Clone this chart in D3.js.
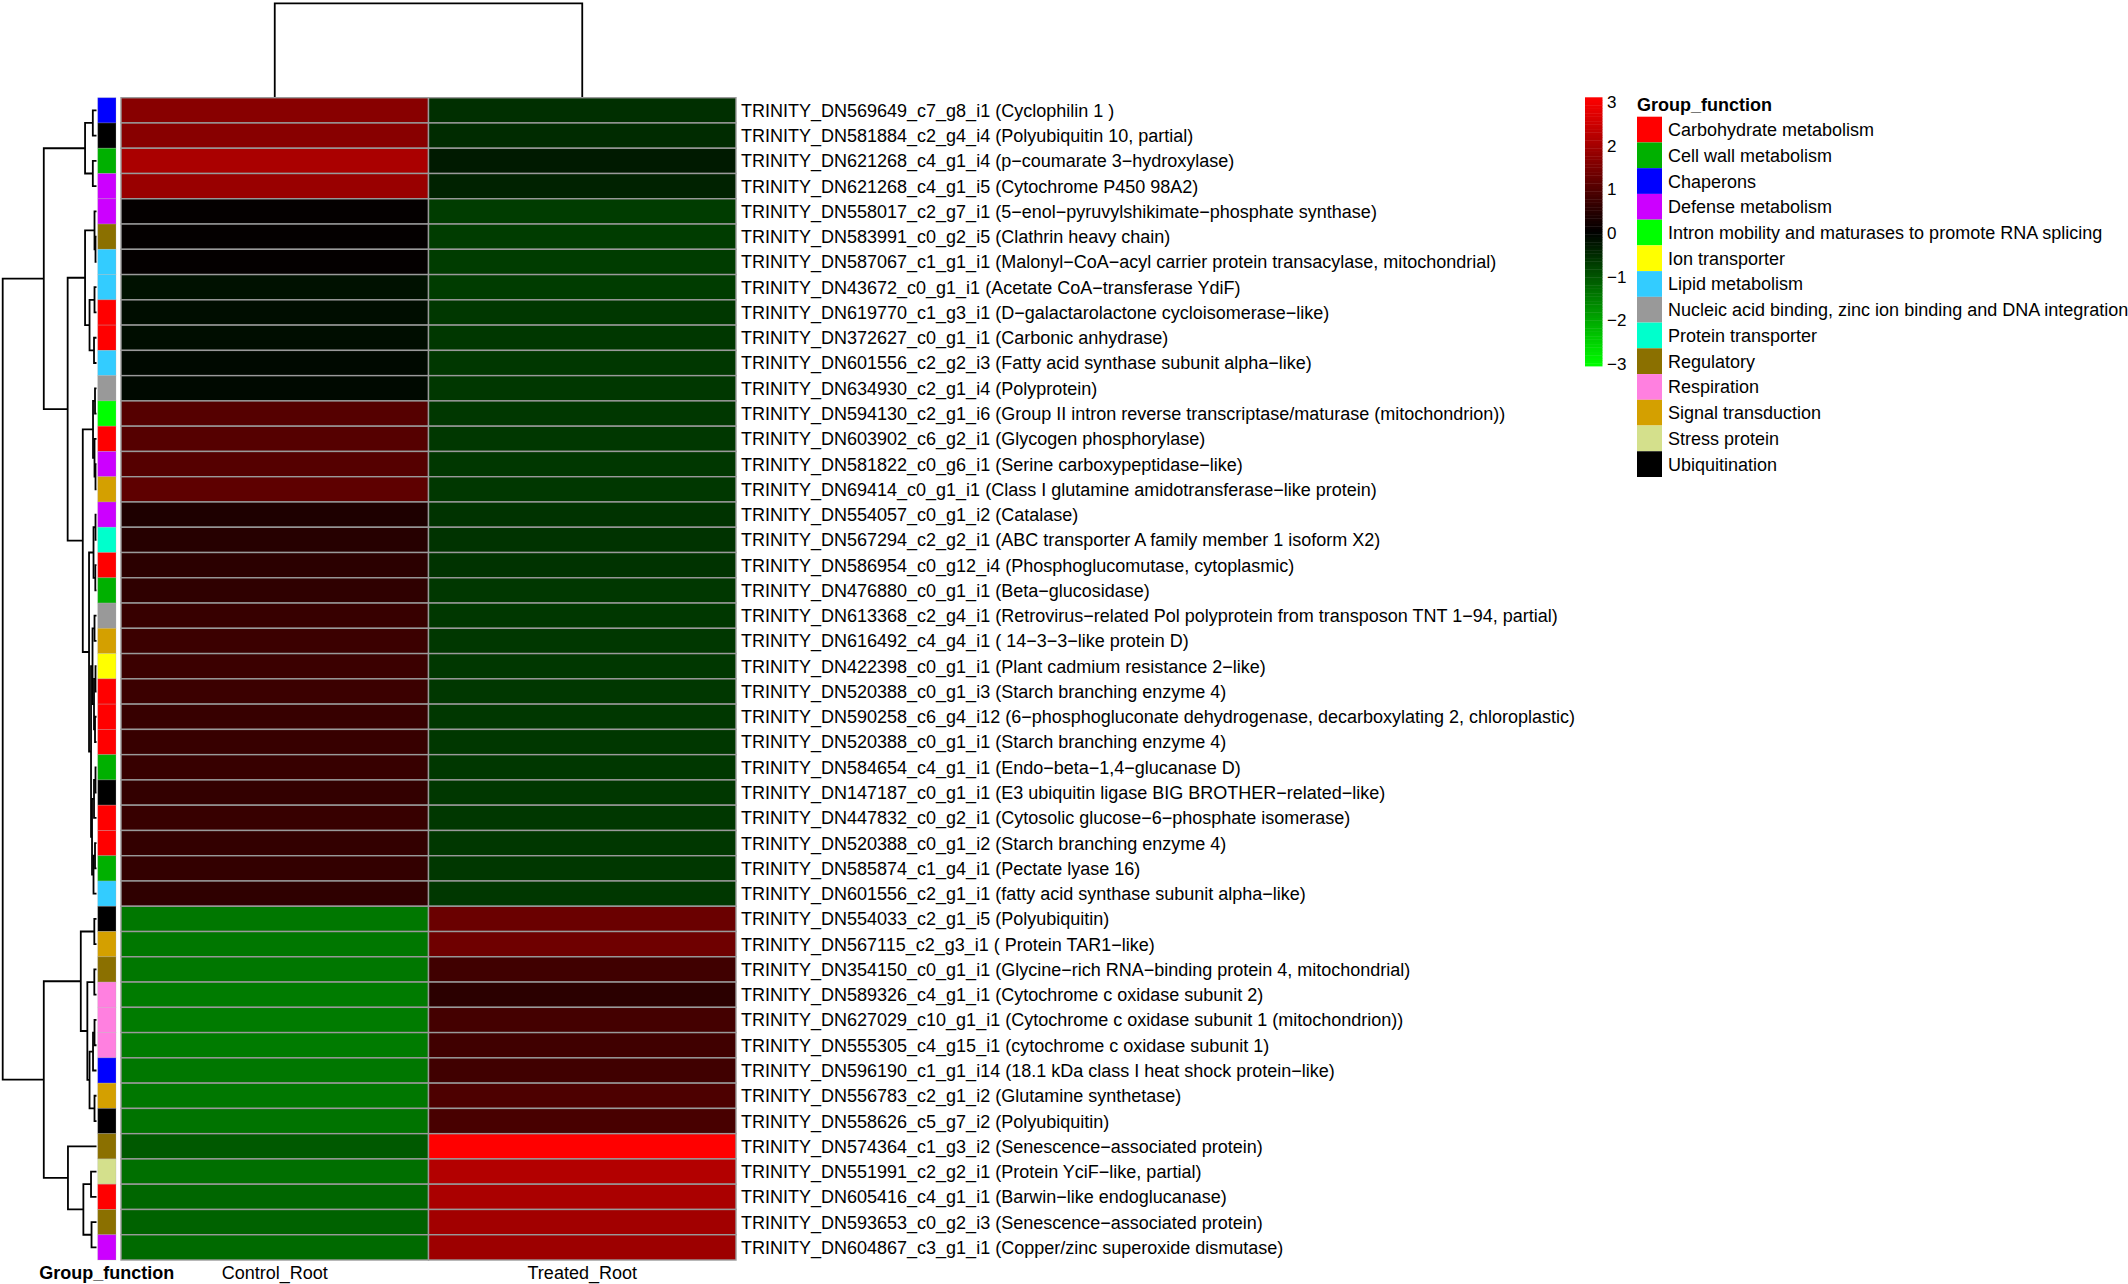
<!DOCTYPE html>
<html>
<head>
<meta charset="utf-8">
<script src="https://cdn.jsdelivr.net/npm/d3@7"></script>
<style>
  html, body { margin: 0; padding: 0; background: #ffffff; }
  svg { display: block; font-family: "Liberation Sans", Arial, sans-serif; }
</style>
</head>
<body>
<svg id="chart" width="2128" height="1284"></svg>
<script>
// ---------------- DATA ----------------
const samples = ["Control_Root", "Treated_Root"];

const genes = [
  "TRINITY_DN569649_c7_g8_i1 (Cyclophilin 1 )",
  "TRINITY_DN581884_c2_g4_i4 (Polyubiquitin 10, partial)",
  "TRINITY_DN621268_c4_g1_i4 (p\u2212coumarate 3\u2212hydroxylase)",
  "TRINITY_DN621268_c4_g1_i5 (Cytochrome P450 98A2)",
  "TRINITY_DN558017_c2_g7_i1 (5\u2212enol\u2212pyruvylshikimate\u2212phosphate synthase)",
  "TRINITY_DN583991_c0_g2_i5 (Clathrin heavy chain)",
  "TRINITY_DN587067_c1_g1_i1 (Malonyl\u2212CoA\u2212acyl carrier protein transacylase, mitochondrial)",
  "TRINITY_DN43672_c0_g1_i1 (Acetate CoA\u2212transferase YdiF)",
  "TRINITY_DN619770_c1_g3_i1 (D\u2212galactarolactone cycloisomerase\u2212like)",
  "TRINITY_DN372627_c0_g1_i1 (Carbonic anhydrase)",
  "TRINITY_DN601556_c2_g2_i3 (Fatty acid synthase subunit alpha\u2212like)",
  "TRINITY_DN634930_c2_g1_i4 (Polyprotein)",
  "TRINITY_DN594130_c2_g1_i6 (Group II intron reverse transcriptase/maturase (mitochondrion))",
  "TRINITY_DN603902_c6_g2_i1 (Glycogen phosphorylase)",
  "TRINITY_DN581822_c0_g6_i1 (Serine carboxypeptidase\u2212like)",
  "TRINITY_DN69414_c0_g1_i1 (Class I glutamine amidotransferase\u2212like protein)",
  "TRINITY_DN554057_c0_g1_i2 (Catalase)",
  "TRINITY_DN567294_c2_g2_i1 (ABC transporter A family member 1 isoform X2)",
  "TRINITY_DN586954_c0_g12_i4 (Phosphoglucomutase, cytoplasmic)",
  "TRINITY_DN476880_c0_g1_i1 (Beta\u2212glucosidase)",
  "TRINITY_DN613368_c2_g4_i1 (Retrovirus\u2212related Pol polyprotein from transposon TNT 1\u221294, partial)",
  "TRINITY_DN616492_c4_g4_i1 ( 14\u22123\u22123\u2212like protein D)",
  "TRINITY_DN422398_c0_g1_i1 (Plant cadmium resistance 2\u2212like)",
  "TRINITY_DN520388_c0_g1_i3 (Starch branching enzyme 4)",
  "TRINITY_DN590258_c6_g4_i12 (6\u2212phosphogluconate dehydrogenase, decarboxylating 2, chloroplastic)",
  "TRINITY_DN520388_c0_g1_i1 (Starch branching enzyme 4)",
  "TRINITY_DN584654_c4_g1_i1 (Endo\u2212beta\u22121,4\u2212glucanase D)",
  "TRINITY_DN147187_c0_g1_i1 (E3 ubiquitin ligase BIG BROTHER\u2212related\u2212like)",
  "TRINITY_DN447832_c0_g2_i1 (Cytosolic glucose\u22126\u2212phosphate isomerase)",
  "TRINITY_DN520388_c0_g1_i2 (Starch branching enzyme 4)",
  "TRINITY_DN585874_c1_g4_i1 (Pectate lyase 16)",
  "TRINITY_DN601556_c2_g1_i1 (fatty acid synthase subunit alpha\u2212like)",
  "TRINITY_DN554033_c2_g1_i5 (Polyubiquitin)",
  "TRINITY_DN567115_c2_g3_i1 ( Protein TAR1\u2212like)",
  "TRINITY_DN354150_c0_g1_i1 (Glycine\u2212rich RNA\u2212binding protein 4, mitochondrial)",
  "TRINITY_DN589326_c4_g1_i1 (Cytochrome c oxidase subunit 2)",
  "TRINITY_DN627029_c10_g1_i1 (Cytochrome c oxidase subunit 1 (mitochondrion))",
  "TRINITY_DN555305_c4_g15_i1 (cytochrome c oxidase subunit 1)",
  "TRINITY_DN596190_c1_g1_i14 (18.1 kDa class I heat shock protein\u2212like)",
  "TRINITY_DN556783_c2_g1_i2 (Glutamine synthetase)",
  "TRINITY_DN558626_c5_g7_i2 (Polyubiquitin)",
  "TRINITY_DN574364_c1_g3_i2 (Senescence\u2212associated protein)",
  "TRINITY_DN551991_c2_g2_i1 (Protein YciF\u2212like, partial)",
  "TRINITY_DN605416_c4_g1_i1 (Barwin\u2212like endoglucanase)",
  "TRINITY_DN593653_c0_g2_i3 (Senescence\u2212associated protein)",
  "TRINITY_DN604867_c3_g1_i1 (Copper/zinc superoxide dismutase)"
];

const groupNames = [
  "Carbohydrate metabolism", "Cell wall metabolism", "Chaperons", "Defense metabolism",
  "Intron mobility and maturases to promote RNA splicing", "Ion transporter", "Lipid metabolism",
  "Nucleic acid binding, zinc ion binding and DNA integration", "Protein transporter", "Regulatory",
  "Respiration", "Signal transduction", "Stress protein", "Ubiquitination"
];
const groupColors = [
  "#ff0000", "#00b000", "#0000ff", "#cc00ff",
  "#00ff00", "#ffff00", "#33ccff",
  "#999999", "#00ffcc", "#8b7000",
  "#ff80e0", "#d4a000", "#d4e08c", "#000000"
];

// group index per gene (row order as shown)
const geneGroup = [
  2, 13, 1, 3, 3, 9, 6, 6, 0, 0, 6, 7,
  4, 0, 3, 11, 3, 8, 0, 1, 7, 11, 5, 0,
  0, 0, 1, 13, 0, 0, 1, 6,
  13, 11, 9, 10, 10, 10, 2, 11, 13, 9, 12, 0, 9, 3
];

const controlValues = [
  1.6, 1.6, 2.0, 1.8, 0.05, 0.05, 0.05, -0.2, -0.15, -0.15, -0.1, -0.1,
  1.0, 1.0, 1.0, 1.1, 0.35, 0.45, 0.5, 0.55, 0.65, 0.7, 0.7, 0.7,
  0.65, 0.65, 0.65, 0.6, 0.65, 0.6, 0.6, 0.55,
  -1.4, -1.4, -1.4, -1.45, -1.45, -1.45, -1.4, -1.4, -1.35,
  -1.05, -1.3, -1.2, -1.15, -1.25
];
const treatedValues = [
  -0.55, -0.5, -0.3, -0.4, -0.7, -0.7, -0.7, -0.7, -0.65, -0.65, -0.65, -0.65,
  -0.65, -0.65, -0.65, -0.65, -0.6, -0.6, -0.6, -0.65, -0.65, -0.65, -0.65, -0.65,
  -0.65, -0.65, -0.65, -0.65, -0.65, -0.65, -0.65, -0.65,
  1.25, 1.3, 0.75, 0.5, 0.8, 0.75, 0.75, 0.9, 0.85,
  3.0, 2.1, 2.0, 1.9, 1.85
];

const colorTicks = [3, 2, 1, 0, -1, -2, -3];

// Row dendrogram: [height, left, right]; leaves are row indices
const rowTree =
[94.3,
  [53,
    [11.5, [3.7, 0, 1], [3.7, 2, 3]],
    [29,
      [11.5, [2, 4, [1, 5, 6]], [7, [2, 7, 8], [2.5, 9, 10]]],
      [13.8,
        [3.5, [1.5, 11, 12], [2, 13, [1, 14, 15]]],
        [7.5,
          [3, [1, 16, 17], [1.2, 18, 19]],
          [5.5,
            [4, [2, 20, 21], [2.5, [1, 22, 23], [1.5, 24, 25]]],
            [4.5, [2.5, [1, 26, 27], 28], [3, [1.5, 29, 30], 31]]
          ]
        ]
      ]
    ]
  ],
  [53,
    [15.8, [2.2, 32, 33], [9.2, [2.2, 34, 35], [7, [3.5, [2, 36, 37], 38], [2, 39, 40]]]],
    [28.7, 41, [13.2, [5.5, 42, 43], [5, 44, 45]]]
  ]
];
// Column dendrogram
const colTree = [1, 0, 1];

// ---------------- CHART ----------------
const svg = d3.select("#chart");
const FS = 18;

const x = d3.scaleBand().domain(samples).range([121, 736]).paddingInner(0).paddingOuter(0);
const y = d3.scaleBand().domain(d3.range(genes.length)).range([97.7, 1260]);
const color = d3.scaleLinear().domain([-3, 0, 3]).range(["#00ff00", "#000000", "#ff0000"]).clamp(true);

const cells = [];
genes.forEach((g, i) => {
  cells.push({ row: i, s: samples[0], v: controlValues[i] });
  cells.push({ row: i, s: samples[1], v: treatedValues[i] });
});

// heatmap cells
svg.append("g").selectAll("rect").data(cells).join("rect")
  .attr("x", d => x(d.s))
  .attr("y", d => y(d.row))
  .attr("width", x.bandwidth())
  .attr("height", y.bandwidth())
  .attr("fill", d => color(d.v))
  .attr("stroke", "#9a9a9a")
  .attr("stroke-width", 1.4);

// annotation column
const annX = d3.scaleBand().domain(["Group_function"]).range([97.7, 116]);
svg.append("g").selectAll("rect").data(geneGroup).join("rect")
  .attr("x", annX("Group_function"))
  .attr("y", (d, i) => y(i))
  .attr("width", annX.bandwidth())
  .attr("height", y.bandwidth())
  .attr("fill", d => groupColors[d])
  .attr("stroke", "#b0b0b0")
  .attr("stroke-opacity", 0.35)
  .attr("stroke-width", 0.8);

// row labels
svg.append("g").selectAll("text").data(genes).join("text")
  .attr("x", 741)
  .attr("y", (d, i) => y(i) + y.bandwidth() / 2)
  .attr("dy", "0.36em")
  .attr("font-size", FS)
  .attr("fill", "#000")
  .text(d => d);

// column labels
svg.append("g").selectAll("text").data(samples).join("text")
  .attr("x", d => x(d) + x.bandwidth() / 2)
  .attr("y", 1279)
  .attr("text-anchor", "middle")
  .attr("font-size", FS)
  .text(d => d);
svg.append("text")
  .attr("x", annX("Group_function") + annX.bandwidth() / 2)
  .attr("y", 1279)
  .attr("text-anchor", "middle")
  .attr("font-size", FS)
  .attr("font-weight", "bold")
  .text("Group_function");

// row dendrogram
const hx = d3.scaleLinear().domain([0, rowTree[0]]).range([96.5, 2.7]);
const rowPaths = [];
function layoutRow(node) {
  if (typeof node === "number") return { h: 0, y: y(node) + y.bandwidth() / 2 };
  const a = layoutRow(node[1]), b = layoutRow(node[2]);
  rowPaths.push(`M${hx(a.h)},${a.y}H${hx(node[0])}V${b.y}H${hx(b.h)}`);
  return { h: node[0], y: (a.y + b.y) / 2 };
}
layoutRow(rowTree);
svg.append("g").selectAll("path").data(rowPaths).join("path")
  .attr("d", d => d)
  .attr("fill", "none")
  .attr("stroke", "#000")
  .attr("stroke-width", 1.8);

// column dendrogram
const hy = d3.scaleLinear().domain([0, colTree[0]]).range([97, 3.3]);
const colPaths = [];
function layoutCol(node) {
  if (typeof node === "number") return { h: 0, x: x(samples[node]) + x.bandwidth() / 2 };
  const a = layoutCol(node[1]), b = layoutCol(node[2]);
  colPaths.push(`M${a.x},${hy(a.h)}V${hy(node[0])}H${b.x}V${hy(b.h)}`);
  return { h: node[0], x: (a.x + b.x) / 2 };
}
layoutCol(colTree);
svg.append("g").selectAll("path").data(colPaths).join("path")
  .attr("d", d => d)
  .attr("fill", "none")
  .attr("stroke", "#000")
  .attr("stroke-width", 1.8);

// color bar
const cbY = d3.scaleLinear().domain([-3, 3]).range([366, 97.3]);
const steps = d3.range(-3, 3, 0.06);
svg.append("g").selectAll("rect").data(steps).join("rect")
  .attr("x", 1585)
  .attr("y", d => cbY(d + 0.06))
  .attr("width", 17.5)
  .attr("height", d => cbY(d) - cbY(d + 0.06) + 0.4)
  .attr("fill", d => color(d + 0.03));
const cbLab = d3.scaleLinear().domain([-3, 3]).range([364, 101.7]);
svg.append("g").selectAll("text").data(colorTicks).join("text")
  .attr("x", 1607)
  .attr("y", d => cbLab(d))
  .attr("dy", "0.36em")
  .attr("font-size", 17)
  .text(d => d < 0 ? "\u2212" + Math.abs(d) : String(d));

// group legend
svg.append("text")
  .attr("x", 1637)
  .attr("y", 105)
  .attr("dy", "0.36em")
  .attr("font-size", FS)
  .attr("font-weight", "bold")
  .text("Group_function");
const ly = d3.scaleBand().domain(groupNames).range([116.7, 477]);
const lg = svg.append("g").selectAll("g").data(groupNames).join("g");
lg.append("rect")
  .attr("x", 1637)
  .attr("y", d => ly(d))
  .attr("width", 25)
  .attr("height", ly.bandwidth())
  .attr("fill", (d, i) => groupColors[i]);
lg.append("text")
  .attr("x", 1668)
  .attr("y", d => ly(d) + ly.bandwidth() / 2)
  .attr("dy", "0.36em")
  .attr("font-size", FS)
  .text(d => d);
</script>
</body>
</html>
